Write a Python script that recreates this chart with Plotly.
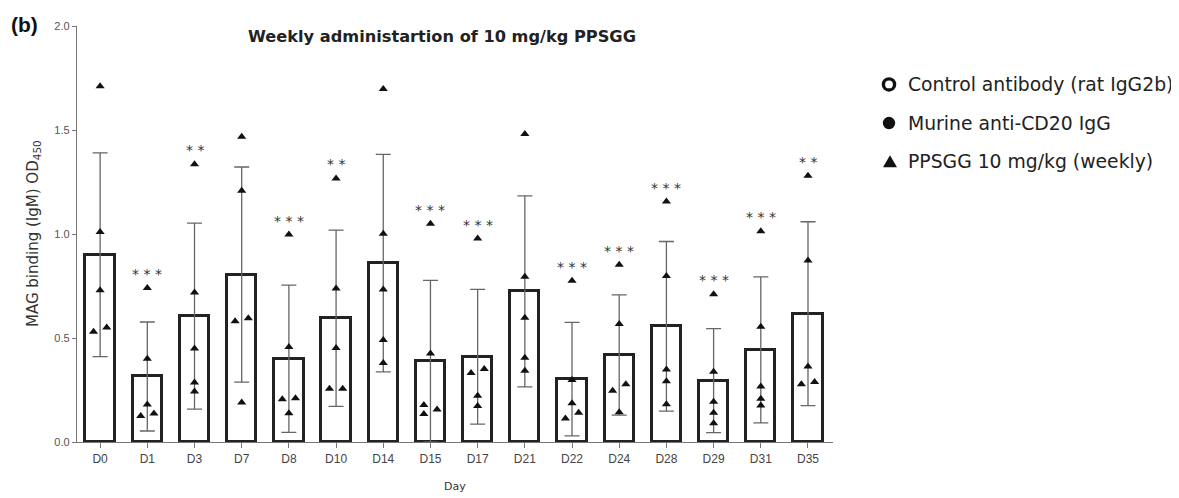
import plotly.graph_objects as go

days = ["D0", "D1", "D3", "D7", "D8", "D10", "D14", "D15", "D17", "D21",
        "D22", "D24", "D28", "D29", "D31", "D35"]
means = [0.90, 0.315, 0.605, 0.805, 0.40, 0.595, 0.86, 0.388, 0.41, 0.724,
         0.302, 0.418, 0.556, 0.295, 0.443, 0.617]
sds = [0.49, 0.262, 0.447, 0.517, 0.354, 0.424, 0.523, 0.389, 0.324, 0.459,
       0.273, 0.289, 0.408, 0.25, 0.351, 0.442]
points = [
    [1.71, 1.01, 0.73, 0.53, 0.55],
    [0.74, 0.40, 0.18, 0.125, 0.137],
    [1.335, 0.719, 0.449, 0.286, 0.243],
    [1.467, 1.208, 0.581, 0.595, 0.19],
    [0.997, 0.457, 0.205, 0.21, 0.138],
    [1.267, 0.738, 0.452, 0.256, 0.256],
    [1.697, 1.001, 0.733, 0.49, 0.38],
    [1.049, 0.425, 0.178, 0.135, 0.156],
    [0.978, 0.332, 0.351, 0.222, 0.173],
    [1.481, 0.795, 0.597, 0.405, 0.343],
    [0.775, 0.298, 0.186, 0.113, 0.141],
    [0.852, 0.567, 0.246, 0.278, 0.143],
    [1.156, 0.798, 0.349, 0.292, 0.181],
    [0.71, 0.338, 0.194, 0.141, 0.09],
    [1.013, 0.554, 0.267, 0.208, 0.176],
    [1.28, 0.873, 0.363, 0.278, 0.289],
]
# jitter side of each point (-1 left, 0 centre, +1 right)
sides = [
    [0, 0, 0, -1, 1],
    [0, 0, 0, -1, 1],
    [0, 0, 0, 0, 0],
    [0, 0, -1, 1, 0],
    [0, 0, -1, 1, 0],
    [0, 0, 0, -1, 1],
    [0, 0, 0, 0, 0],
    [0, 0, -1, -1, 1],
    [0, -1, 1, 0, 0],
    [0, 0, 0, 0, 0],
    [0, 0, 0, -1, 1],
    [0, 0, -1, 1, 0],
    [0, 0, 0, 0, 0],
    [0, 0, 0, 0, 0],
    [0, 0, 0, 0, 0],
    [0, 0, 0, -1, 1],
]
stars = ["", "***", "**", "", "***", "**", "", "***", "***", "",
         "***", "***", "***", "***", "***", "**"]
yticks = [0.0, 0.5, 1.0, 1.5, 2.0]
legend_names = ["Control antibody (rat IgG2b)", "Murine anti-CD20 IgG",
                "PPSGG 10 mg/kg (weekly)"]

xi = list(range(len(days)))
JIT = 0.14


# screen-pixel -> paper helpers (plot area spans x 77..833, y 22..442)
def xp(s):
    return (s - 77) / 756.0


def yp(s):
    return (442 - s) / 420.0


fig = go.Figure()
fig.add_trace(go.Bar(
    x=xi, y=means, width=0.62,
    marker=dict(color="white", line=dict(color="#222222", width=3)),
    error_y=dict(type="data", array=sds, visible=True, color="#666666",
                 thickness=1.3, width=7.5),
    showlegend=False, hoverinfo="skip",
))

px_, py_ = [], []
for i, (vals, sd_) in enumerate(zip(points, sides)):
    for v, s in zip(vals, sd_):
        px_.append(i + s * JIT)
        py_.append(v)
fig.add_trace(go.Scatter(
    x=px_, y=py_, mode="markers",
    marker=dict(symbol="triangle-up", size=8, color="#111111"),
    showlegend=False, hoverinfo="skip",
))

annotations = []
for i, s in enumerate(stars):
    if s:
        annotations.append(dict(
            x=i, y=max(points[i]), xref="x", yref="y",
            text=" ".join(list(s)), showarrow=False,
            yanchor="middle", yshift=14,
            font=dict(family="DejaVu Sans", size=14, color="#333333"),
        ))
annotations.append(dict(
    x=xp(9), y=yp(20), xref="paper", yref="paper", xanchor="left", yanchor="middle",
    text="<b>(b)</b>", showarrow=False,
    font=dict(family="Liberation Sans", size=21, color="#111111"),
))
annotations.append(dict(
    x=xp(33), y=0.5, xref="paper", yref="paper", xanchor="center", yanchor="middle",
    text="MAG binding (IgM) OD<sub>450</sub>", textangle=-90, showarrow=False,
    font=dict(family="DejaVu Sans", size=15, color="#333333"),
))
annotations.append(dict(
    x=0.5, y=yp(487), xref="paper", yref="paper", xanchor="center", yanchor="middle",
    text="Day", showarrow=False,
    font=dict(family="DejaVu Sans", size=11, color="#333333"),
))

# hand-drawn legend (kept out of the plot-area margins)
leg_rows = [81, 120, 159]
shapes = []
for k, (nm, ry) in enumerate(zip(legend_names, leg_rows)):
    annotations.append(dict(
        x=xp(906), y=yp(ry), xref="paper", yref="paper",
        xanchor="left", yanchor="middle", text=nm, showarrow=False,
        font=dict(family="DejaVu Sans", size=18.8, color="#222222"),
    ))
sx = xp(889)
shapes.append(dict(type="circle", xref="paper", yref="paper",
                   xsizemode="pixel", ysizemode="pixel",
                   xanchor=sx, yanchor=yp(leg_rows[0]),
                   x0=-5.6, x1=5.6, y0=-5.6, y1=5.6,
                   line=dict(color="#111111", width=3.4), fillcolor="white"))
shapes.append(dict(type="circle", xref="paper", yref="paper",
                   xsizemode="pixel", ysizemode="pixel",
                   xanchor=sx, yanchor=yp(leg_rows[1]),
                   x0=-6.2, x1=6.2, y0=-6.2, y1=6.2,
                   line=dict(color="#111111", width=0), fillcolor="#111111"))
shapes.append(dict(type="path", xref="paper", yref="paper",
                   xsizemode="pixel", ysizemode="pixel",
                   xanchor=xp(890), yanchor=yp(leg_rows[2]),
                   path="M -7 -5.5 L 7 -5.5 L 0 6.5 Z",
                   line=dict(color="#111111", width=0), fillcolor="#111111"))

# page body adds an 8px offset; figure laid out to compensate
fig.update_layout(
    width=1171, height=490,
    margin=dict(l=69, r=346, t=14, b=56),
    paper_bgcolor="white", plot_bgcolor="white",
    showlegend=False,
    title=dict(text="<b>Weekly administartion of 10 mg/kg PPSGG</b>",
               xref="container", yref="container", x=434 / 1171, y=1 - 28 / 490,
               xanchor="center", yanchor="middle",
               font=dict(family="DejaVu Sans", size=16.2, color="#222222")),
    xaxis=dict(range=[-0.49, 15.53], tickvals=xi, ticktext=days,
               showgrid=False, zeroline=False, showline=True,
               linecolor="#777777", linewidth=1.3,
               ticks="outside", ticklen=5, tickcolor="#777777", tickwidth=1.2,
               tickfont=dict(family="Liberation Sans", size=12, color="#444444")),
    yaxis=dict(range=[0, 2.0], tickvals=yticks, tickformat=".1f",
               showgrid=False, zeroline=False, showline=True,
               linecolor="#777777", linewidth=1.3,
               ticks="outside", ticklen=4, tickcolor="#777777", tickwidth=1.2,
               tickfont=dict(family="Liberation Sans", size=11, color="#555555")),
    annotations=annotations,
    shapes=shapes,
    bargap=0,
)

fig.write_html("out.html")
